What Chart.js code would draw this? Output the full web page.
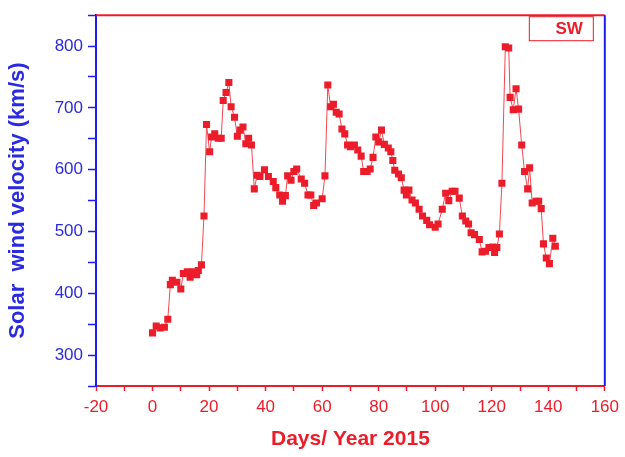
<!DOCTYPE html>
<html>
<head>
<meta charset="utf-8">
<title>Solar wind velocity 2015</title>
<script src="https://cdn.jsdelivr.net/npm/chart.js@4.4.1/dist/chart.umd.min.js"></script>
<style>
  html, body { margin: 0; padding: 0; background: #fff; }
  #wrap { width: 625px; height: 457px; }
</style>
</head>
<body>
<div id="wrap"><canvas id="swChart" width="625" height="457"></canvas></div>
<script>
// values
const days = [
  0, 1.3, 2.7, 4.2, 5.4, 6.3, 7, 8.6, 10, 10.9, 12.3, 13.3, 14.4, 15.6, 16.2, 17.3, 18.2,
  19.1, 20.2, 20.9, 22, 23.3, 24.3, 25, 26, 27, 27.8, 29, 30, 31, 32, 33, 34, 35,
  36, 37, 38, 39.6, 41, 42.7, 43.6, 45, 46, 47, 47.8, 49, 50, 51, 52.6, 53.8, 55, 56,
  57, 58, 60, 61, 62, 63, 64, 65, 66, 67, 68, 69, 70, 71.4, 72.6, 73.8, 74.7, 75.9,
  77, 78, 79, 80, 81, 82, 83.4, 84.3, 85, 85.7, 87, 88, 89, 89.8, 90.7, 91.8, 93,
  94.3, 95.5, 97, 98, 100, 101, 102.5, 103.7, 104.8, 106, 107, 108.5, 109.6, 110.8,
  111.8, 112.7, 113.9, 115.6, 116.6, 117.8, 119, 120.4, 121, 121.8, 122.7, 123.6,
  124.8, 126, 126.5, 127.6, 128.6, 129.5, 130.6, 131.6, 132.7, 133.4, 134.3, 135.7,
  136.6, 137.5, 138.3, 139.3, 140.4, 141.6, 142.5
];
const speeds = [
  336, 347, 344, 345, 358, 414, 421, 418, 407, 432, 435, 426, 435, 430, 437, 446, 525,
  673, 629, 653, 658, 651, 651, 712, 725, 741, 702, 685, 654, 664, 669, 642, 651, 640,
  569, 591, 589, 600, 589, 581, 571, 559, 549, 558, 590, 583, 597, 601, 585, 578, 559, 559,
  542, 546, 553, 590, 737, 702, 706, 693, 690, 666, 658, 640, 637, 640, 632, 622, 597, 597,
  601, 620, 653, 645, 664, 641, 635, 629, 615, 599, 593, 587, 567, 559, 567, 551, 546,
  536, 525, 518, 511, 507, 512, 536, 562, 550, 565, 565, 554, 525, 517,
  512, 498, 495, 487, 467, 468, 474, 475, 466, 474, 496, 578,
  799, 797, 717, 697, 731, 698, 640, 597, 569, 603, 546, 549,
  549, 537, 480, 457, 448, 489, 476
];
const xTickLabels = [-20, 0, 20, 40, 60, 80, 100, 120, 140, 160];
const yTickLabels = [300, 400, 500, 600, 700, 800];
const seriesName = "SW";

const RED = "#ec1c2a";
const BLUE = "#1c1cf0";
const BLUE_TEXT = "#2a2ae0";
const FONT = "'Liberation Sans', Arial, sans-serif";

// top/right frame lines and the boxed legend, Origin style
const framePlugin = {
  id: "frame",
  afterDraw(chart) {
    const { ctx, chartArea: a } = chart;
    ctx.save();
    ctx.lineWidth = 2;
    ctx.strokeStyle = RED;
    ctx.beginPath();
    ctx.moveTo(a.left, a.top);
    ctx.lineTo(a.right, a.top);
    ctx.stroke();
    ctx.strokeStyle = BLUE;
    ctx.beginPath();
    ctx.moveTo(a.right, a.top);
    ctx.lineTo(a.right, a.bottom);
    ctx.stroke();

    // legend box
    const bw = 64, bh = 24;
    const bx = a.right - 12 - bw, by = a.top + 1;
    ctx.lineWidth = 1;
    ctx.strokeStyle = RED;
    ctx.strokeRect(bx + 0.5, by + 0.5, bw, bh);
    ctx.fillStyle = RED;
    ctx.font = "bold 17px " + FONT;
    ctx.textAlign = "right";
    ctx.textBaseline = "middle";
    ctx.fillText(seriesName, bx + bw - 10, by + bh / 2 + 1);
    ctx.restore();
  }
};

const ctx = document.getElementById("swChart").getContext("2d");
new Chart(ctx, {
  type: "line",
  data: {
    datasets: [
      {
        label: seriesName,
        data: days.map((d, i) => ({ x: d, y: speeds[i] })),
        borderColor: "#f04850",
        borderWidth: 1,
        backgroundColor: RED,
        pointBackgroundColor: RED,
        pointBorderColor: RED,
        pointBorderWidth: 0,
        pointStyle: "rect",
        pointRadius: 5,
        tension: 0,
        fill: false,
      },
    ],
  },
  options: {
    responsive: false,
    animation: false,
    devicePixelRatio: 1,
    layout: { padding: { top: 13, right: 16, left: 0, bottom: 0 } },
    scales: {
      x: {
        type: "linear",
        min: -20,
        max: 160,
        afterFit: (scale) => { scale.height = 71; },
        border: { color: RED, width: 2 },
        grid: { drawOnChartArea: false, drawTicks: true, tickLength: 5, tickColor: RED, tickWidth: 1.5 },
        ticks: {
          stepSize: 10,
          autoSkip: false,
          maxRotation: 0,
          padding: 6,
          color: RED,
          font: { family: FONT, size: 17 },
          callback: (v) => (xTickLabels.includes(v) ? String(v) : ""),
        },
        title: {
          display: true,
          text: "Days/ Year 2015",
          color: RED,
          font: { family: FONT, size: 21, weight: "bold" },
          padding: { top: 0, bottom: 5 },
        },
      },
      y: {
        min: 250,
        max: 850,
        afterFit: (scale) => { scale.width = 96; },
        border: { color: BLUE, width: 2 },
        grid: { drawOnChartArea: false, drawTicks: true, tickLength: 8, tickColor: BLUE, tickWidth: 1.5 },
        ticks: {
          stepSize: 50,
          autoSkip: false,
          padding: 5,
          color: BLUE_TEXT,
          font: { family: FONT, size: 17 },
          callback: (v) => (yTickLabels.includes(v) ? String(v) : ""),
        },
        title: {
          display: true,
          text: "Solar  wind velocity (km/s)",
          color: BLUE_TEXT,
          font: { family: FONT, size: 22, weight: "bold" },
          padding: { top: 5, bottom: 0 },
        },
      },
    },
    plugins: {
      legend: { display: false },
      tooltip: { enabled: false },
    },
  },
  plugins: [framePlugin],
});
</script>
</body>
</html>
